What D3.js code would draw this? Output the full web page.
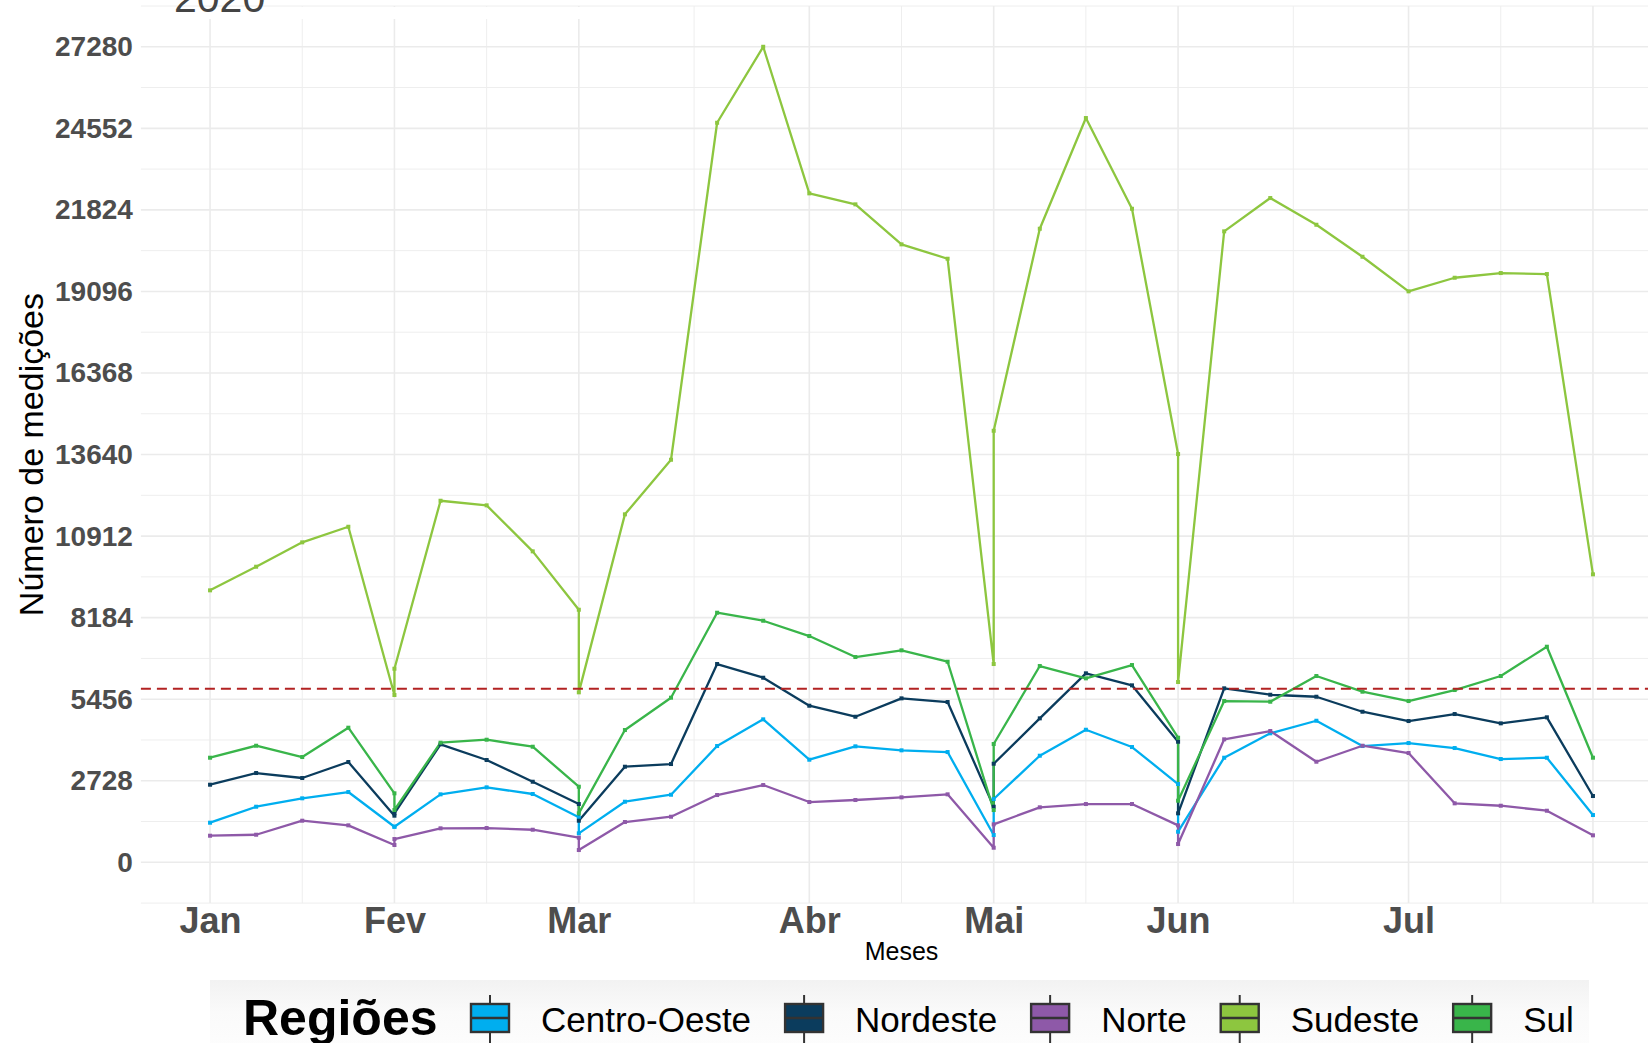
<!DOCTYPE html>
<html><head><meta charset="utf-8">
<script src="https://cdn.jsdelivr.net/npm/d3@7"></script>
<style>html,body{margin:0;padding:0;background:#fff;overflow:hidden}</style>
</head><body>
<svg id="chart" width="1648" height="1043" xmlns="http://www.w3.org/2000/svg"></svg>
<script>
// ---- data (week index since 1 Jan 2020; month boundary weeks appear twice) ----
const weeks = [0,1,2,3,4,4,5,6,7,8,8,9,10,11,12,13,14,15,16,17,17,18,19,20,21,21,22,23,24,25,26,27,28,29,30];
const centroOeste = [1325,1860,2141,2351,1191,1191,2274,2508,2285,1505,970,2027,2261,3890,4783,3432,3880,3746,3689,913,2117,3566,4435,3856,2619,1024,3499,4315,4736,3890,3990,3823,3455,3499,1582];
const nordeste    = [2596,2987,2820,3355,1560,1640,3947,3422,2696,1950,1392,3198,3288,6633,6175,5238,4870,5485,5362,1860,3298,4816,6322,5920,4034,1639,5820,5606,5539,5037,4726,4960,4649,4850,2218];
const norte       = [890,923,1392,1237,579,779,1137,1147,1090,823,411,1348,1525,2251,2585,2017,2084,2174,2274,488,1271,1840,1950,1950,1237,612,4114,4392,3365,3900,3656,1973,1893,1726,903];
const sudeste     = [9098,9888,10703,11225,5596,6476,12095,11941,10402,8449,5686,11640,13466,24738,27280,22377,22009,20671,20190,6633,14436,21193,24896,21862,13657,6031,21106,22220,21327,20256,19099,19554,19711,19678,9633];
const sul         = [3499,3900,3522,4503,2308,1750,4001,4101,3867,2529,1639,4425,5507,8349,8081,7569,6867,7091,6710,1749,3957,6566,6154,6599,4168,2061,5395,5372,6232,5707,5395,5763,6232,7212,3499];
const regions = ["Centro-Oeste","Nordeste","Norte","Sudeste","Sul"];
const regionColors = ["#00AEEF","#0B3C5D","#8E59A8","#8DC63F","#39B54A"];
const seriesValues = [centroOeste, nordeste, norte, sudeste, sul];
const monthWeeks  = [0,4,8,13,17,21,26,30];
const monthLabels = ["Jan","Fev","Mar","Abr","Mai","Jun","Jul",""];
const yTicks = [0,2728,5456,8184,10912,13640,16368,19096,21824,24552,27280];
const referenceValue = 5806;
const titleText = "2020";
const xTitle = "Meses";
const yTitle = "Número de medições";
const legendTitle = "Regiões";

// ---- layout ----
const svg = d3.select("#chart");
const FONT = "'Liberation Sans', Arial, Helvetica, sans-serif";
const panel = {left:140.9, right:1662.1, top:6, bottom:903.1};
const x = d3.scaleLinear().domain([-1.5, 31.5]).range([panel.left, panel.right]);
const y = d3.scaleLinear().domain([-1364, 28644]).range([panel.bottom, panel.top]);

const defs = svg.append("defs");
const grad = defs.append("linearGradient").attr("id","lgbg").attr("x1",0).attr("x2",0).attr("y1",0).attr("y2",1);
grad.append("stop").attr("offset","0%").attr("stop-color","#F2F2F2");
grad.append("stop").attr("offset","45%").attr("stop-color","#FAFAFA");
grad.append("stop").attr("offset","100%").attr("stop-color","#FDFDFD");

const grid = svg.append("g");
// minor grid
const yStep = yTicks[1]-yTicks[0];
const yMinor = [yTicks[0]-yStep/2].concat(yTicks.map(v => v + yStep/2));
const xMinor = d3.pairs(monthWeeks).map(([a,b]) => (a+b)/2);
grid.selectAll("line.ymin").data(yMinor).join("line")
  .attr("x1", panel.left).attr("x2", panel.right)
  .attr("y1", d => y(d)).attr("y2", d => y(d))
  .attr("stroke", "#EEEEEE").attr("stroke-width", 1);
grid.selectAll("line.xmin").data(xMinor).join("line")
  .attr("x1", d => x(d)).attr("x2", d => x(d))
  .attr("y1", panel.top).attr("y2", panel.bottom)
  .attr("stroke", "#EEEEEE").attr("stroke-width", 1);
// major grid
grid.selectAll("line.ymaj").data(yTicks).join("line")
  .attr("x1", panel.left).attr("x2", panel.right)
  .attr("y1", d => y(d)).attr("y2", d => y(d))
  .attr("stroke", "#EBEBEB").attr("stroke-width", 1.6);
grid.selectAll("line.xmaj").data(monthWeeks).join("line")
  .attr("x1", d => x(d)).attr("x2", d => x(d))
  .attr("y1", panel.top).attr("y2", panel.bottom)
  .attr("stroke", "#EBEBEB").attr("stroke-width", 1.6);

// ---- series ----
const line = d3.line().x(d => x(d[0])).y(d => y(d[1])).curve(d3.curveLinear);
const seriesData = regions.map((r,i) => ({name:r, color:regionColors[i], pts: weeks.map((w,j) => [w, seriesValues[i][j]])}));
const gS = svg.append("g");
gS.selectAll("path").data(seriesData).join("path")
  .attr("d", d => line(d.pts)).attr("fill","none")
  .attr("stroke", d => d.color).attr("stroke-width", 2.3)
  .attr("stroke-linejoin","round").attr("stroke-linecap","butt");
seriesData.forEach(s => {
  gS.append("g").selectAll("rect").data(s.pts).join("rect")
    .attr("x", d => x(d[0]) - 2).attr("y", d => y(d[1]) - 2)
    .attr("width", 4).attr("height", 4).attr("fill", s.color);
});

// reference line
svg.append("line")
  .attr("x1", panel.left).attr("x2", panel.right)
  .attr("y1", y(referenceValue)).attr("y2", y(referenceValue))
  .attr("stroke", "#B22222").attr("stroke-width", 1.9)
  .attr("stroke-dasharray", "10,6");

// ---- axes ----
const yAxis = svg.append("g").attr("transform", `translate(${panel.left},0)`)
  .call(d3.axisLeft(y).tickValues(yTicks).tickSize(0).tickPadding(8).tickFormat(d3.format("d")));
yAxis.select(".domain").remove();
yAxis.selectAll("text").attr("font-family", FONT).attr("font-size", 28)
  .attr("font-weight", "bold").attr("fill", "#4D4D4D");

const xAxis = svg.append("g").attr("transform", `translate(0,${panel.bottom})`)
  .call(d3.axisBottom(x).tickValues(monthWeeks).tickSize(0).tickPadding(4).tickFormat((d,i) => monthLabels[i]));
xAxis.select(".domain").remove();
xAxis.selectAll("text").attr("font-family", FONT).attr("font-size", 36)
  .attr("font-weight", "bold").attr("fill", "#4D4D4D");

svg.append("text").attr("x", (panel.left+panel.right)/2).attr("y", 960)
  .attr("text-anchor","middle").attr("font-family", FONT).attr("font-size", 25)
  .attr("fill","#000").text(xTitle);
svg.append("text").attr("transform", `translate(43,${(panel.top+panel.bottom)/2}) rotate(-90)`)
  .attr("text-anchor","middle").attr("font-family", FONT).attr("font-size", 34)
  .attr("fill","#000").text(yTitle);

// ---- title area ----
svg.append("rect").attr("x", 141).attr("y", 7).attr("width", 475).attr("height", 12).attr("fill", "#fff");
svg.append("text").attr("x", 174).attr("y", 12).attr("font-family", FONT)
  .attr("font-size", 41).attr("fill", "#444").text(titleText);

// ---- legend ----
const lg = svg.append("g");
lg.append("rect").attr("x", 210).attr("y", 980).attr("width", 1379).attr("height", 70).attr("fill", "url(#lgbg)");
lg.append("text").attr("x", 243).attr("y", 1035).attr("font-family", FONT)
  .attr("font-size", 50).attr("font-weight", "bold").attr("fill", "#000").text(legendTitle);
let cx = 470;
regions.forEach((r,i) => {
  const k = lg.append("g").attr("transform", `translate(${cx},0)`);
  k.append("line").attr("x1", 20).attr("x2", 20).attr("y1", 995).attr("y2", 1043)
    .attr("stroke", "#333").attr("stroke-width", 2);
  k.append("rect").attr("x", 1).attr("y", 1004).attr("width", 38).attr("height", 28)
    .attr("fill", regionColors[i]).attr("stroke", "#333").attr("stroke-width", 2.4);
  k.append("line").attr("x1", 1).attr("x2", 39).attr("y1", 1018).attr("y2", 1018)
    .attr("stroke", "#333").attr("stroke-width", 2.4);
  const t = lg.append("text").attr("x", cx + 71).attr("y", 1032).attr("font-family", FONT)
    .attr("font-size", 35).attr("fill", "#000").text(r);
  cx = cx + 71 + t.node().getComputedTextLength() + 33;
});
</script>
</body></html>
